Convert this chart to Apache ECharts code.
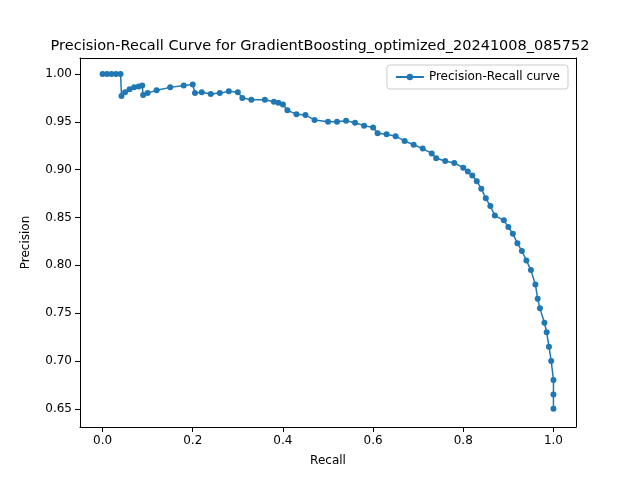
<!DOCTYPE html>
<html><head><meta charset="utf-8">
<script src="https://cdn.jsdelivr.net/npm/echarts@6/dist/echarts.min.js"></script>
<style>html,body{margin:0;padding:0;background:#fff}#c{width:640px;height:480px}</style>
</head><body><div id="c"></div>
<script>
var recall = [0,0.01,0.02,0.03,0.04,0.042,0.05,0.06,0.07,0.08,0.088,0.09,0.1,0.12,0.15,0.18,0.2,0.205,0.22,0.24,0.26,0.28,0.3,0.31,0.33,0.36,0.38,0.39,0.4,0.41,0.43,0.45,0.47,0.5,0.52,0.54,0.56,0.58,0.6,0.61,0.63,0.65,0.67,0.69,0.71,0.73,0.74,0.76,0.78,0.8,0.81,0.82,0.83,0.84,0.85,0.86,0.87,0.89,0.9,0.91,0.92,0.93,0.94,0.95,0.96,0.965,0.97,0.98,0.985,0.99,0.995,1.0,1.0,1.0];
var precision = [1.0,1.0,1.0,1.0,1.0,0.977,0.981,0.984,0.986,0.987,0.988,0.978,0.980,0.983,0.986,0.988,0.989,0.980,0.981,0.979,0.980,0.982,0.981,0.975,0.973,0.973,0.971,0.970,0.968,0.962,0.958,0.957,0.952,0.950,0.950,0.951,0.949,0.946,0.944,0.938,0.937,0.935,0.930,0.926,0.922,0.917,0.912,0.909,0.907,0.902,0.898,0.894,0.888,0.880,0.870,0.862,0.852,0.847,0.840,0.833,0.823,0.815,0.805,0.795,0.780,0.765,0.755,0.740,0.730,0.715,0.700,0.680,0.665,0.650];
var xTicks = [0,0.2,0.4,0.6,0.8,1.0];
var yTicks = [0.65,0.70,0.75,0.80,0.85,0.90,0.95,1.00];
var pts = recall.map(function (r, i) { return [r, precision[i]]; });
var chart = echarts.init(document.getElementById("c"));
var font = "DejaVu Sans";
var frame = { show: true, onZero: false, lineStyle: { color: "#000" } };
chart.setOption({
  animation: false,
  textStyle: { fontFamily: font },
  title: { text: "Precision-Recall Curve for GradientBoosting_optimized_20241008_085752", left: "center", top: 34,
    textStyle: { fontSize: 14.5, fontWeight: "normal", color: "#000", fontFamily: font } },
  legend: { top: 65, right: 72, borderColor: "#ccc", borderWidth: 1, borderRadius: 3, padding: [6, 8],
    itemWidth: 28, itemHeight: 8, textStyle: { fontSize: 12, color: "#000" }, data: ["Precision-Recall curve"] },
  grid: { left: 80, right: 64, top: 58, bottom: 53 },
  xAxis: [{ type: "value", min: -0.05, max: 1.05, name: "Recall", nameLocation: "middle", nameGap: 28,
    nameTextStyle: { fontSize: 12, color: "#000" },
    axisLine: frame,
    axisTick: { customValues: xTicks, lineStyle: { color: "#000" } },
    axisLabel: { customValues: xTicks, color: "#000", fontSize: 12, formatter: function (v) { return v.toFixed(1); } },
    splitLine: { show: false } },
    { type: "value", position: "top", min: -0.05, max: 1.05, axisLine: frame,
      axisTick: { show: false }, axisLabel: { show: false }, splitLine: { show: false } }],
  yAxis: [{ type: "value", min: 0.631, max: 1.0167, name: "Precision", nameLocation: "middle", nameGap: 48,
    nameTextStyle: { fontSize: 12, color: "#000" },
    axisLine: frame,
    axisTick: { show: true, customValues: yTicks, lineStyle: { color: "#000" } },
    axisLabel: { customValues: yTicks, color: "#000", fontSize: 12, formatter: function (v) { return v.toFixed(2); } },
    splitLine: { show: false } },
    { type: "value", position: "right", min: 0.631, max: 1.0167, axisLine: frame,
      axisTick: { show: false }, axisLabel: { show: false }, splitLine: { show: false } }],
  series: [{ name: "Precision-Recall curve", type: "line", data: pts, symbol: "circle", symbolSize: 6,
    showAllSymbol: true, color: "#1f77b4", lineStyle: { width: 1.5 } }]
});
</script></body></html>
